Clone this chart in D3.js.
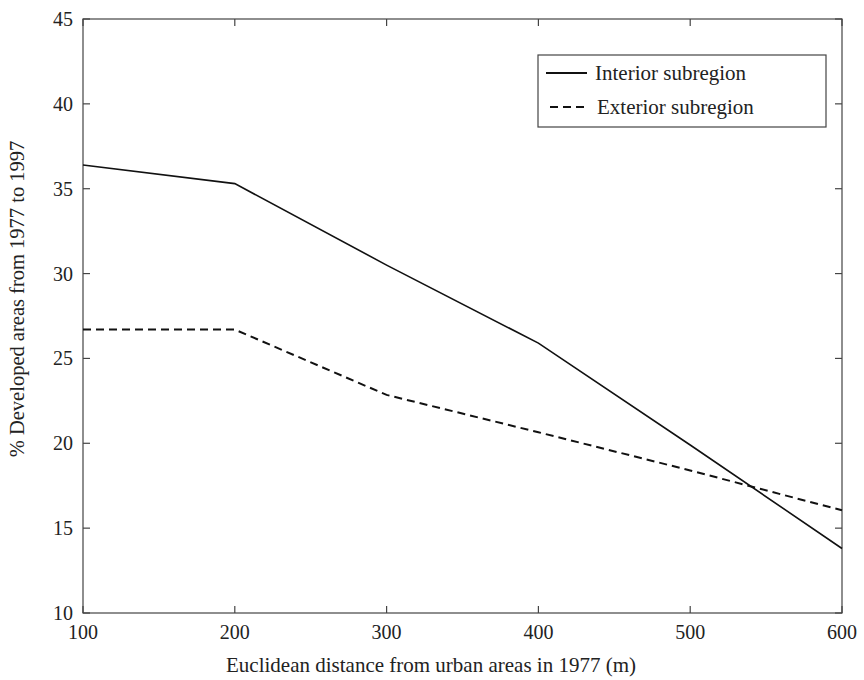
<!DOCTYPE html>
<html><head><meta charset="utf-8">
<script src="https://cdn.jsdelivr.net/npm/d3@7"></script>
<style>body{margin:0;background:#fff}svg{display:block}</style>
</head><body>
<script>
const distances = [100, 200, 300, 400, 500, 600];
const interior = [36.4, 35.3, 30.5, 25.9, 19.9, 13.8];
const exterior = [26.7, 26.7, 22.85, 20.65, 18.4, 16.05];
const xTicks = [100, 200, 300, 400, 500, 600];
const yTicks = [10, 15, 20, 25, 30, 35, 40, 45];
const seriesNames = ["Interior subregion", "Exterior subregion"];

const W = 864, H = 680;
const m = {l: 83, r: 22, t: 19, b: 67};
const svg = d3.select("body").append("svg").attr("width", W).attr("height", H);
const x = d3.scaleLinear().domain([100, 600]).range([m.l, W - m.r]);
const y = d3.scaleLinear().domain([10, 45]).range([H - m.b, m.t]);
const font = "'Liberation Serif','Times New Roman',serif";
const col = "#222";

svg.append("rect").attr("x", x(100)).attr("y", y(45)).attr("width", x(600) - x(100)).attr("height", y(10) - y(45))
  .attr("fill", "none").attr("stroke", "#444").attr("stroke-width", 1.2);

const tl = 7;
const g = svg.append("g").attr("font-family", font).attr("fill", col);
yTicks.forEach(v => {
  g.append("line").attr("x1", x(100)).attr("x2", x(100) + tl).attr("y1", y(v)).attr("y2", y(v)).attr("stroke", "#444").attr("stroke-width", 1.2);
  g.append("line").attr("x1", x(600)).attr("x2", x(600) - tl).attr("y1", y(v)).attr("y2", y(v)).attr("stroke", "#444").attr("stroke-width", 1.2);
  g.append("text").attr("x", x(100) - 10).attr("y", y(v)).attr("dy", "0.35em").attr("text-anchor", "end")
    .attr("font-size", 20).text(v);
});
xTicks.forEach(v => {
  g.append("line").attr("x1", x(v)).attr("x2", x(v)).attr("y1", y(10)).attr("y2", y(10) - tl).attr("stroke", "#444").attr("stroke-width", 1.2);
  g.append("line").attr("x1", x(v)).attr("x2", x(v)).attr("y1", y(45)).attr("y2", y(45) + tl).attr("stroke", "#444").attr("stroke-width", 1.2);
  g.append("text").attr("x", x(v)).attr("y", y(10) + 26).attr("text-anchor", "middle")
    .attr("font-size", 20).text(v);
});

g.append("text").attr("x", 431).attr("y", 672).attr("text-anchor", "middle")
  .attr("font-size", 21).text("Euclidean distance from urban areas in 1977 (m)");
g.append("text").attr("transform", `translate(24,${(y(10) + y(45)) / 2 - 17}) rotate(-90)`).attr("text-anchor", "middle")
  .attr("font-size", 20.5).text("% Developed areas from 1977 to 1997");

const line = d3.line().x((d, i) => x(distances[i])).y(d => y(d));
svg.append("path").datum(interior).attr("d", line).attr("fill", "none").attr("stroke", "#111").attr("stroke-width", 1.6);
svg.append("path").datum(exterior).attr("d", line).attr("fill", "none").attr("stroke", "#111").attr("stroke-width", 2)
  .attr("stroke-dasharray", "8,5");

const lg = svg.append("g");
lg.append("rect").attr("x", 538).attr("y", 55).attr("width", 288).attr("height", 72).attr("fill", "#fff").attr("stroke", "#444").attr("stroke-width", 1.2);
lg.append("line").attr("x1", 546).attr("x2", 587).attr("y1", 73).attr("y2", 73).attr("stroke", "#111").attr("stroke-width", 1.8);
lg.append("line").attr("x1", 550).attr("x2", 587).attr("y1", 107).attr("y2", 107).attr("stroke", "#111").attr("stroke-width", 1.8).attr("stroke-dasharray", "8,5");
lg.append("text").attr("x", 595).attr("y", 80).attr("font-family", font).attr("font-size", 21).attr("fill", col).text(seriesNames[0]);
lg.append("text").attr("x", 597).attr("y", 114).attr("font-family", font).attr("font-size", 21).attr("fill", col).text(seriesNames[1]);
</script>
</body></html>
